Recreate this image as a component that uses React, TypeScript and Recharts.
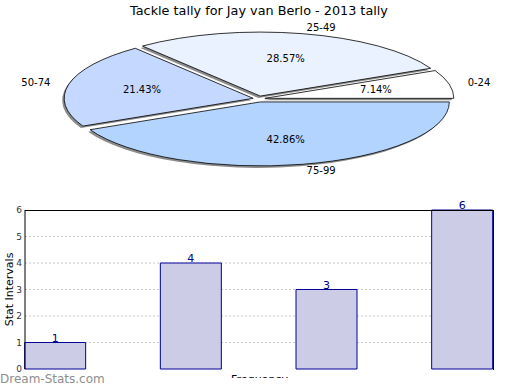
import React from "react";
import {
  PieChart,
  Pie,
  BarChart,
  Bar,
  XAxis,
  YAxis,
  CartesianGrid,
  LabelList,
} from "recharts";

const categories = ["0-24", "25-49", "50-74", "75-99"];
const tallies = [1, 4, 3, 6];
const sliceColors = ["#FFFFFF", "#EBF2FF", "#C5D8FF", "#B3D4FF"];
const yTicks = [0, 1, 2, 3, 4, 5, 6];
const xTicks = [0, 1, 2, 3];

const pieData = categories.map((name, i) => ({ name, value: tallies[i], fill: sliceColors[i] }));
const barData = categories.map((name, i) => ({ name, idx: i, value: tallies[i] }));

const FONT = "'DejaVu Sans', sans-serif";
const RAD = Math.PI / 180;
const SQUASH = 64 / 189; // pie is drawn flattened into an ellipse

function EllipseSlice(props: any) {
  const { cx, cy, outerRadius, startAngle, endAngle, fill } = props;
  const rx = outerRadius;
  const ry = outerRadius * SQUASH;
  const mid = ((startAngle + endAngle) / 2) * RAD;
  // exploded slice
  const x0 = cx + 6 * Math.cos(mid);
  const y0 = cy - 3 * Math.sin(mid);
  const pt = (a: number) => [x0 + rx * Math.cos(a * RAD), y0 - ry * Math.sin(a * RAD)];
  const [sx, sy] = pt(startAngle);
  const [ex, ey] = pt(endAngle);
  const large = Math.abs(endAngle - startAngle) > 180 ? 1 : 0;
  const d = `M${x0},${y0} L${sx},${sy} A${rx},${ry} 0 ${large} 0 ${ex},${ey} Z`;
  return (
    <g>
      <path d={d} transform="translate(-2,2)" fill="#8c8c8c" stroke="none" />
      <path d={d} fill={fill} stroke="#000" strokeWidth={0.8} />
    </g>
  );
}

function renderPieLabel(props: any) {
  const { cx, cy, midAngle, percent, name } = props;
  const c = Math.cos(midAngle * RAD);
  const s = Math.sin(midAngle * RAD);
  return (
    <g style={{ fontFamily: FONT, fontSize: 10 }}>
      <text x={cx + 120 * c} y={cy - 42 * s} textAnchor="middle" dominantBaseline="central" fill="#000">
        {(percent * 100).toFixed(2)}%
      </text>
      <text
        x={cx + 214 * c}
        y={cy - 73 * s}
        textAnchor={c >= 0 ? "start" : "end"}
        dominantBaseline="central"
        fill="#000"
      >
        {name}
      </text>
    </g>
  );
}

export default function App() {
  return (
    <div
      style={{
        position: "absolute",
        left: 0,
        top: 0,
        width: 520,
        height: 390,
        background: "#fff",
        fontFamily: FONT,
        overflow: "hidden",
      }}
    >
      <div style={{ position: "absolute", top: 3, left: 0, width: 518, textAlign: "center", fontSize: 12.8 }}>
        Tackle tally for Jay van Berlo - 2013 tally
      </div>

      <div style={{ position: "absolute", top: 0, left: 0 }}>
        <PieChart width={520} height={200} margin={{ top: 0, right: 0, bottom: 0, left: 0 }}>
          <Pie
            data={pieData}
            dataKey="value"
            nameKey="name"
            cx={259}
            cy={99}
            outerRadius={189}
            startAngle={0}
            endAngle={360}
            stroke="#000"
            labelLine={false}
            label={renderPieLabel}
            shape={EllipseSlice}
            inactiveShape={EllipseSlice}
            activeShape={EllipseSlice}
            isAnimationActive={false}
          />
        </PieChart>
      </div>

      <div style={{ position: "absolute", top: 195, left: 0 }}>
        <BarChart width={520} height={195} data={barData} margin={{ top: 15, right: 27, bottom: 21, left: 0 }}>
          <XAxis
            dataKey="idx"
            type="number"
            domain={[0, 3]}
            ticks={xTicks}
            padding={{ left: 30.5, right: 30.5 }}
            tick={false}
            tickLine={false}
            height={0}
            axisLine={{ stroke: "#000" }}
          />
          <YAxis
            domain={[0, 6]}
            ticks={yTicks}
            width={25}
            tickLine={false}
            tickSize={2}
            tickMargin={1}
            tick={{ fontSize: 9, fill: "#333", fontFamily: FONT }}
            axisLine={{ stroke: "#000" }}
            label={{
              content: (p: any) => {
                const vb = p.viewBox || { y: 15, height: 159 };
                const y = vb.y + vb.height / 2;
                return (
                  <text
                    x={9}
                    y={y}
                    transform={`rotate(-90, 9, ${y})`}
                    textAnchor="middle"
                    dominantBaseline="central"
                    style={{ fontFamily: FONT, fontSize: 11, fill: "#000" }}
                  >
                    Stat Intervals
                  </text>
                );
              },
            }}
          />
          <Bar dataKey="value" fill="#CCCCE6" stroke="#000099" strokeWidth={1} barSize={61} isAnimationActive={false}>
            <LabelList dataKey="value" position="top" offset={1} fill="#000080" fontSize={11} fontFamily={FONT} />
          </Bar>
          <CartesianGrid vertical={false} horizontalValues={[1, 2, 3, 4, 5]} stroke="#c8c8c8" strokeDasharray="2 2" />
        </BarChart>
      </div>

      {/* top and right edges of the plot frame */}
      <div
        style={{
          position: "absolute",
          left: 25,
          top: 210,
          width: 468,
          height: 159,
          borderTop: "1px solid #000",
          borderRight: "1px solid #000",
          pointerEvents: "none",
        }}
      />

      <div
        style={{
          position: "absolute",
          top: 373,
          left: 0,
          width: 519,
          height: 5,
          overflow: "hidden",
          textAlign: "center",
          fontSize: 11,
          lineHeight: "13px",
        }}
      >
        Frequency
      </div>

      <div style={{ position: "absolute", top: 372, left: 0, fontSize: 12, color: "#8e8e8e", lineHeight: "14px" }}>
        Dream-Stats.com
      </div>
    </div>
  );
}
